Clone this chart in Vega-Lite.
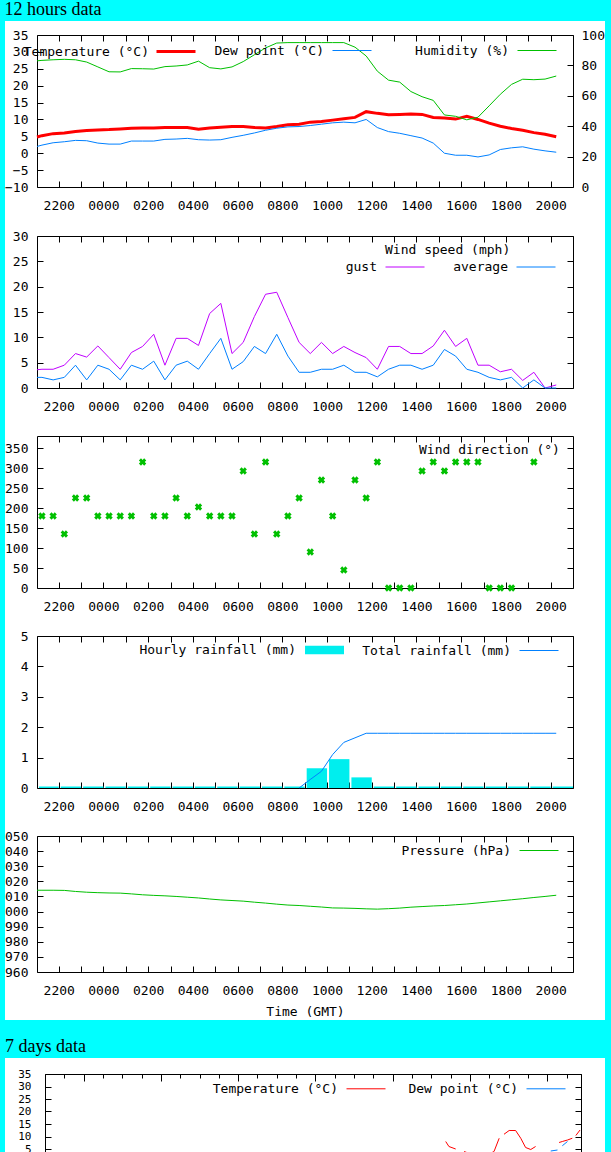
{
  "$schema": "https://vega.github.io/schema/vega-lite/v6.json",
  "background": "#00ffff",
  "padding": {"left": 4, "right": 7, "top": 1, "bottom": 0},
  "bounds": "flush",
  "spacing": 0,
  "resolve": {"scale": {"x": "independent", "y": "independent", "color": "independent", "stroke": "independent", "fill": "independent"}, "legend": {"color": "independent", "stroke": "independent", "fill": "independent"}},
  "config": {
    "view": {"fill": "white", "stroke": null},
    "font": "DejaVu Sans Mono",
    "axis": {"labelFont": "DejaVu Sans Mono", "labelFontSize": 13, "labelColor": "black", "domainColor": "black", "tickColor": "black", "grid": false, "labelFlush": false, "labelOverlap": false, "titleFont": "DejaVu Sans Mono", "titleFontSize": 13, "titleFontWeight": "normal", "titleColor": "black", "domainWidth": 1, "tickWidth": 1, "tickSize": -6},
    "legend": {"orient": "none", "direction": "horizontal", "padding": 0, "labelFont": "DejaVu Sans Mono", "labelFontSize": 13, "labelColor": "black", "titleFont": "DejaVu Sans Mono", "titleFontSize": 13, "titleFontWeight": "normal", "titleColor": "black", "symbolType": "stroke", "symbolSize": 1521, "symbolStrokeWidth": 1, "labelAlign": "right", "labelOffset": -48, "gridAlign": "all", "labelLimit": 400}
  },
  "datasets": {
    "h12": [
      {"t": "2024-01-15T20:45", "temp": 4.8, "dew": 2.0, "hum": 83.0, "gust": 3.6, "avg": 2.1, "dir": null, "pres": 1014.1, "total": null},
      {"t": "2024-01-15T21:15", "temp": 5.2, "dew": 2.4, "hum": 83.3, "gust": 3.7, "avg": 2.1, "dir": 180, "pres": 1014.1, "total": null},
      {"t": "2024-01-15T21:45", "temp": 5.8, "dew": 3.1, "hum": 83.7, "gust": 3.7, "avg": 1.6, "dir": 180, "pres": 1014.1, "total": null},
      {"t": "2024-01-15T22:15", "temp": 6.0, "dew": 3.4, "hum": 84.0, "gust": 4.5, "avg": 2.1, "dir": 135, "pres": 1014.0, "total": null},
      {"t": "2024-01-15T22:45", "temp": 6.4, "dew": 3.8, "hum": 83.7, "gust": 6.8, "avg": 4.5, "dir": 225, "pres": 1013.3, "total": null},
      {"t": "2024-01-15T23:15", "temp": 6.7, "dew": 3.7, "hum": 82.2, "gust": 6.1, "avg": 1.6, "dir": 225, "pres": 1012.8, "total": null},
      {"t": "2024-01-15T23:45", "temp": 6.9, "dew": 3.0, "hum": 79.0, "gust": 8.3, "avg": 4.5, "dir": 180, "pres": 1012.5, "total": null},
      {"t": "2024-01-16T00:15", "temp": 7.0, "dew": 2.7, "hum": 75.8, "gust": 6.0, "avg": 3.7, "dir": 180, "pres": 1012.3, "total": null},
      {"t": "2024-01-16T00:45", "temp": 7.2, "dew": 2.7, "hum": 75.7, "gust": 3.7, "avg": 1.6, "dir": 180, "pres": 1012.2, "total": null},
      {"t": "2024-01-16T01:15", "temp": 7.4, "dew": 3.6, "hum": 77.9, "gust": 7.0, "avg": 4.5, "dir": 180, "pres": 1011.7, "total": null},
      {"t": "2024-01-16T01:45", "temp": 7.5, "dew": 3.6, "hum": 77.8, "gust": 8.2, "avg": 3.7, "dir": 315, "pres": 1011.1, "total": null},
      {"t": "2024-01-16T02:15", "temp": 7.5, "dew": 3.6, "hum": 77.6, "gust": 10.6, "avg": 5.3, "dir": 180, "pres": 1010.7, "total": null},
      {"t": "2024-01-16T02:45", "temp": 7.6, "dew": 4.1, "hum": 79.2, "gust": 4.5, "avg": 1.6, "dir": 180, "pres": 1010.4, "total": null},
      {"t": "2024-01-16T03:15", "temp": 7.6, "dew": 4.2, "hum": 79.6, "gust": 9.8, "avg": 4.5, "dir": 225, "pres": 1010.0, "total": null},
      {"t": "2024-01-16T03:45", "temp": 7.6, "dew": 4.4, "hum": 80.3, "gust": 9.8, "avg": 5.3, "dir": 180, "pres": 1009.5, "total": null},
      {"t": "2024-01-16T04:15", "temp": 7.1, "dew": 4.0, "hum": 82.8, "gust": 8.4, "avg": 3.7, "dir": 202.5, "pres": 1009.0, "total": null},
      {"t": "2024-01-16T04:45", "temp": 7.5, "dew": 3.9, "hum": 78.5, "gust": 14.7, "avg": 6.8, "dir": 180, "pres": 1008.3, "total": null},
      {"t": "2024-01-16T05:15", "temp": 7.7, "dew": 4.0, "hum": 77.7, "gust": 16.7, "avg": 9.8, "dir": 180, "pres": 1007.7, "total": null},
      {"t": "2024-01-16T05:45", "temp": 7.9, "dew": 4.7, "hum": 79.0, "gust": 6.8, "avg": 3.7, "dir": 180, "pres": 1007.3, "total": null},
      {"t": "2024-01-16T06:15", "temp": 7.9, "dew": 5.3, "hum": 82.5, "gust": 9.0, "avg": 5.2, "dir": 292.5, "pres": 1006.9, "total": null},
      {"t": "2024-01-16T06:45", "temp": 7.6, "dew": 6.0, "hum": 87.0, "gust": 14.1, "avg": 8.2, "dir": 135, "pres": 1006.2, "total": null},
      {"t": "2024-01-16T07:15", "temp": 7.5, "dew": 6.8, "hum": 91.5, "gust": 18.5, "avg": 6.8, "dir": 315, "pres": 1005.6, "total": null},
      {"t": "2024-01-16T07:45", "temp": 7.9, "dew": 7.4, "hum": 94.7, "gust": 18.9, "avg": 10.6, "dir": 135, "pres": 1004.9, "total": null},
      {"t": "2024-01-16T08:15", "temp": 8.4, "dew": 7.8, "hum": 95.0, "gust": 13.9, "avg": 6.3, "dir": 180, "pres": 1004.3, "total": null},
      {"t": "2024-01-16T08:45", "temp": 8.6, "dew": 7.9, "hum": 95.0, "gust": 9.0, "avg": 3.1, "dir": 225, "pres": 1004.0, "total": 0},
      {"t": "2024-01-16T09:15", "temp": 9.2, "dew": 8.2, "hum": 95.0, "gust": 6.8, "avg": 3.1, "dir": 90, "pres": 1003.5, "total": 0.28},
      {"t": "2024-01-16T09:45", "temp": 9.4, "dew": 8.6, "hum": 95.0, "gust": 9.0, "avg": 3.7, "dir": 270, "pres": 1003.0, "total": 0.55},
      {"t": "2024-01-16T10:15", "temp": 9.8, "dew": 9.0, "hum": 95.0, "gust": 6.8, "avg": 3.7, "dir": 180, "pres": 1002.4, "total": 1.1},
      {"t": "2024-01-16T10:45", "temp": 10.2, "dew": 9.2, "hum": 95.0, "gust": 8.2, "avg": 4.5, "dir": 45, "pres": 1002.3, "total": 1.5},
      {"t": "2024-01-16T11:15", "temp": 10.6, "dew": 9.0, "hum": 92.0, "gust": 7.0, "avg": 3.1, "dir": 270, "pres": 1002.1, "total": 1.65},
      {"t": "2024-01-16T11:45", "temp": 12.3, "dew": 10.0, "hum": 86.2, "gust": 6.0, "avg": 3.1, "dir": 225, "pres": 1001.8, "total": 1.8},
      {"t": "2024-01-16T12:15", "temp": 11.8, "dew": 7.6, "hum": 76.2, "gust": 3.7, "avg": 2.2, "dir": 315, "pres": 1001.6, "total": 1.8},
      {"t": "2024-01-16T12:45", "temp": 11.4, "dew": 6.4, "hum": 70.3, "gust": 8.2, "avg": 3.7, "dir": 0, "pres": 1001.9, "total": 1.8},
      {"t": "2024-01-16T13:15", "temp": 11.5, "dew": 5.9, "hum": 69.0, "gust": 8.2, "avg": 4.5, "dir": 0, "pres": 1002.3, "total": 1.8},
      {"t": "2024-01-16T13:45", "temp": 11.6, "dew": 5.2, "hum": 62.8, "gust": 6.8, "avg": 4.5, "dir": 0, "pres": 1002.9, "total": 1.8},
      {"t": "2024-01-16T14:15", "temp": 11.5, "dew": 4.5, "hum": 59.4, "gust": 6.8, "avg": 3.7, "dir": 292.5, "pres": 1003.3, "total": 1.8},
      {"t": "2024-01-16T14:45", "temp": 10.6, "dew": 3.0, "hum": 57.0, "gust": 8.3, "avg": 4.5, "dir": 315, "pres": 1003.7, "total": 1.8},
      {"t": "2024-01-16T15:15", "temp": 10.4, "dew": 0.0, "hum": 47.4, "gust": 11.4, "avg": 7.6, "dir": 292.5, "pres": 1004.0, "total": 1.8},
      {"t": "2024-01-16T15:45", "temp": 10.1, "dew": -0.6, "hum": 46.5, "gust": 8.2, "avg": 6.3, "dir": 315, "pres": 1004.5, "total": 1.8},
      {"t": "2024-01-16T16:15", "temp": 10.9, "dew": -0.6, "hum": 44.2, "gust": 9.8, "avg": 3.7, "dir": 315, "pres": 1005.0, "total": 1.8},
      {"t": "2024-01-16T16:45", "temp": 10.0, "dew": -1.1, "hum": 45.9, "gust": 4.5, "avg": 3.1, "dir": 315, "pres": 1005.7, "total": 1.8},
      {"t": "2024-01-16T17:15", "temp": 8.9, "dew": -0.5, "hum": 53.4, "gust": 4.5, "avg": 2.1, "dir": 0, "pres": 1006.4, "total": 1.8},
      {"t": "2024-01-16T17:45", "temp": 8.0, "dew": 1.1, "hum": 61.0, "gust": 3.2, "avg": 1.6, "dir": 0, "pres": 1007.1, "total": 1.8},
      {"t": "2024-01-16T18:15", "temp": 7.3, "dew": 1.6, "hum": 67.5, "gust": 3.7, "avg": 2.1, "dir": 0, "pres": 1007.8, "total": 1.8},
      {"t": "2024-01-16T18:45", "temp": 6.8, "dew": 1.9, "hum": 70.9, "gust": 1.5, "avg": 0.0, "dir": null, "pres": 1008.5, "total": 1.8},
      {"t": "2024-01-16T19:15", "temp": 6.1, "dew": 1.2, "hum": 70.6, "gust": 3.1, "avg": 1.6, "dir": 315, "pres": 1009.3, "total": 1.8},
      {"t": "2024-01-16T19:45", "temp": 5.6, "dew": 0.7, "hum": 71.0, "gust": 0.0, "avg": 0.0, "dir": null, "pres": 1010.0, "total": 1.8},
      {"t": "2024-01-16T20:15", "temp": 4.9, "dew": 0.3, "hum": 73.0, "gust": 0.6, "avg": 0.0, "dir": null, "pres": 1010.8, "total": 1.8}
    ],
    "rain": [
      {"start": "2024-01-15T21:00", "end": "2024-01-15T22:00", "rain": 0},
      {"start": "2024-01-15T22:00", "end": "2024-01-15T23:00", "rain": 0},
      {"start": "2024-01-15T23:00", "end": "2024-01-16T00:00", "rain": 0},
      {"start": "2024-01-16T00:00", "end": "2024-01-16T01:00", "rain": 0},
      {"start": "2024-01-16T01:00", "end": "2024-01-16T02:00", "rain": 0},
      {"start": "2024-01-16T02:00", "end": "2024-01-16T03:00", "rain": 0},
      {"start": "2024-01-16T03:00", "end": "2024-01-16T04:00", "rain": 0},
      {"start": "2024-01-16T04:00", "end": "2024-01-16T05:00", "rain": 0},
      {"start": "2024-01-16T05:00", "end": "2024-01-16T06:00", "rain": 0},
      {"start": "2024-01-16T06:00", "end": "2024-01-16T07:00", "rain": 0},
      {"start": "2024-01-16T07:00", "end": "2024-01-16T08:00", "rain": 0},
      {"start": "2024-01-16T08:00", "end": "2024-01-16T09:00", "rain": 0},
      {"start": "2024-01-16T09:00", "end": "2024-01-16T10:00", "rain": 0.6},
      {"start": "2024-01-16T10:00", "end": "2024-01-16T11:00", "rain": 0.9},
      {"start": "2024-01-16T11:00", "end": "2024-01-16T12:00", "rain": 0.3},
      {"start": "2024-01-16T12:00", "end": "2024-01-16T13:00", "rain": 0},
      {"start": "2024-01-16T13:00", "end": "2024-01-16T14:00", "rain": 0},
      {"start": "2024-01-16T14:00", "end": "2024-01-16T15:00", "rain": 0},
      {"start": "2024-01-16T15:00", "end": "2024-01-16T16:00", "rain": 0},
      {"start": "2024-01-16T16:00", "end": "2024-01-16T17:00", "rain": 0},
      {"start": "2024-01-16T17:00", "end": "2024-01-16T18:00", "rain": 0},
      {"start": "2024-01-16T18:00", "end": "2024-01-16T19:00", "rain": 0},
      {"start": "2024-01-16T19:00", "end": "2024-01-16T20:00", "rain": 0},
      {"start": "2024-01-16T20:00", "end": "2024-01-16T21:00", "rain": 0}
    ],
    "d7": [
      {"t": "2024-01-14T16:26", "temp": 8.0, "dew": 3.0},
      {"t": "2024-01-14T17:26", "temp": 6.0, "dew": null},
      {"t": "2024-01-14T19:32", "temp": 5.0, "dew": null},
      {"t": "2024-01-14T21:02", "temp": null, "dew": 2.0},
      {"t": "2024-01-14T22:08", "temp": 4.0, "dew": null},
      {"t": "2024-01-15T00:14", "temp": 3.0, "dew": null},
      {"t": "2024-01-15T02:44", "temp": 2.0, "dew": null},
      {"t": "2024-01-15T03:14", "temp": null, "dew": 1.0},
      {"t": "2024-01-15T05:08", "temp": 2.5, "dew": null},
      {"t": "2024-01-15T07:26", "temp": 4.0, "dew": null},
      {"t": "2024-01-15T09:02", "temp": 9.3, "dew": null},
      {"t": "2024-01-15T09:26", "temp": null, "dew": 2.0},
      {"t": "2024-01-15T10:32", "temp": 10.9, "dew": null},
      {"t": "2024-01-15T12:08", "temp": 12.4, "dew": null},
      {"t": "2024-01-15T14:08", "temp": 12.4, "dew": null},
      {"t": "2024-01-15T15:44", "temp": 9.3, "dew": 3.0},
      {"t": "2024-01-15T17:14", "temp": 5.6, "dew": null},
      {"t": "2024-01-15T18:50", "temp": 4.8, "dew": null},
      {"t": "2024-01-15T20:20", "temp": 6.0, "dew": null},
      {"t": "2024-01-15T20:56", "temp": null, "dew": 3.8},
      {"t": "2024-01-15T22:26", "temp": 6.9, "dew": null},
      {"t": "2024-01-15T22:56", "temp": null, "dew": 4.2},
      {"t": "2024-01-16T00:02", "temp": 7.6, "dew": null},
      {"t": "2024-01-16T01:02", "temp": null, "dew": 4.2},
      {"t": "2024-01-16T03:08", "temp": null, "dew": 4.6},
      {"t": "2024-01-16T03:38", "temp": 7.6, "dew": null},
      {"t": "2024-01-16T04:38", "temp": 8.0, "dew": 6.3},
      {"t": "2024-01-16T06:14", "temp": 8.6, "dew": 8.0},
      {"t": "2024-01-16T07:44", "temp": 9.3, "dew": null},
      {"t": "2024-01-16T08:14", "temp": null, "dew": 9.3},
      {"t": "2024-01-16T08:50", "temp": 10.4, "dew": null},
      {"t": "2024-01-16T10:08", "temp": 12.6, "dew": 10.4}
    ]
  },
  "vconcat": [
    {
      "width": 600, "height": 199,
      "title": {"text": "12 hours data", "anchor": "start", "offset": 2, "font": "Liberation Serif", "fontSize": 18, "fontWeight": "normal", "color": "black"},
      "data": {"name": "h12"},
      "resolve": {"scale": {"y": "independent"}, "axis": {"x": "independent", "y": "independent"}},
      "layer": [
        {
          "mark": {"type": "line", "strokeWidth": 3},
          "encoding": {
            "x": {"field": "t", "type": "temporal",
              "scale": {"domain": [{"year": 2024, "month": 1, "date": 15, "hours": 21, "minutes": 1, "seconds": 42}, {"year": 2024, "month": 1, "date": 16, "hours": 20, "minutes": 59, "seconds": 59}], "range": [32, 568], "clamp": true, "nice": false},
              "axis": {"orient": "bottom", "offset": -33, "labelPadding": 18, "format": "%H%M", "labelExpr": "hours(datum.value) % 2 == 0 ? datum.label : ''", "title": null,
                "values": [{"year": 2024, "month": 1, "date": 15, "hours": 22}, {"year": 2024, "month": 1, "date": 15, "hours": 23}, {"year": 2024, "month": 1, "date": 16, "hours": 0}, {"year": 2024, "month": 1, "date": 16, "hours": 1}, {"year": 2024, "month": 1, "date": 16, "hours": 2}, {"year": 2024, "month": 1, "date": 16, "hours": 3}, {"year": 2024, "month": 1, "date": 16, "hours": 4}, {"year": 2024, "month": 1, "date": 16, "hours": 5}, {"year": 2024, "month": 1, "date": 16, "hours": 6}, {"year": 2024, "month": 1, "date": 16, "hours": 7}, {"year": 2024, "month": 1, "date": 16, "hours": 8}, {"year": 2024, "month": 1, "date": 16, "hours": 9}, {"year": 2024, "month": 1, "date": 16, "hours": 10}, {"year": 2024, "month": 1, "date": 16, "hours": 11}, {"year": 2024, "month": 1, "date": 16, "hours": 12}, {"year": 2024, "month": 1, "date": 16, "hours": 13}, {"year": 2024, "month": 1, "date": 16, "hours": 14}, {"year": 2024, "month": 1, "date": 16, "hours": 15}, {"year": 2024, "month": 1, "date": 16, "hours": 16}, {"year": 2024, "month": 1, "date": 16, "hours": 17}, {"year": 2024, "month": 1, "date": 16, "hours": 18}, {"year": 2024, "month": 1, "date": 16, "hours": 19}, {"year": 2024, "month": 1, "date": 16, "hours": 20}]}},
            "y": {"field": "temp", "type": "quantitative", "scale": {"domain": [-10, 35], "range": [166, 14], "nice": false, "zero": false},
              "axis": {"orient": "left", "offset": -32, "labelPadding": 15, "values": [-10, -5, 0, 5, 10, 15, 20, 25, 30, 35], "title": null}},
            "stroke": {"datum": "Temperature (°C)", "type": "nominal",
              "scale": {"domain": ["Temperature (°C)"], "range": ["#ff0000"]},
              "legend": {"title": null, "legendX": 150, "legendY": 9.5, "symbolStrokeWidth": 3}}
          }
        },
        {
          "mark": {"type": "line", "strokeWidth": 1},
          "encoding": {
            "x": {"field": "t", "type": "temporal", "axis": null},
            "y": {"field": "dew", "type": "quantitative", "scale": {"domain": [-10, 35], "range": [166, 14], "nice": false, "zero": false}, "axis": null},
            "color": {"datum": "Dew point (°C)", "type": "nominal",
              "scale": {"domain": ["Dew point (°C)", "Humidity (%)"], "range": ["#0080ff", "#00c000"]},
              "legend": {"title": null, "legendX": 327, "legendY": 9.5, "columnPadding": 41}}
          }
        },
        {
          "mark": {"type": "line", "strokeWidth": 1},
          "encoding": {
            "x": {"field": "t", "type": "temporal",
              "axis": {"orient": "top", "offset": -14, "labels": false, "title": null,
                "values": [{"year": 2024, "month": 1, "date": 15, "hours": 22}, {"year": 2024, "month": 1, "date": 15, "hours": 23}, {"year": 2024, "month": 1, "date": 16, "hours": 0}, {"year": 2024, "month": 1, "date": 16, "hours": 1}, {"year": 2024, "month": 1, "date": 16, "hours": 2}, {"year": 2024, "month": 1, "date": 16, "hours": 3}, {"year": 2024, "month": 1, "date": 16, "hours": 4}, {"year": 2024, "month": 1, "date": 16, "hours": 5}, {"year": 2024, "month": 1, "date": 16, "hours": 6}, {"year": 2024, "month": 1, "date": 16, "hours": 7}, {"year": 2024, "month": 1, "date": 16, "hours": 8}, {"year": 2024, "month": 1, "date": 16, "hours": 9}, {"year": 2024, "month": 1, "date": 16, "hours": 10}, {"year": 2024, "month": 1, "date": 16, "hours": 11}, {"year": 2024, "month": 1, "date": 16, "hours": 12}, {"year": 2024, "month": 1, "date": 16, "hours": 13}, {"year": 2024, "month": 1, "date": 16, "hours": 14}, {"year": 2024, "month": 1, "date": 16, "hours": 15}, {"year": 2024, "month": 1, "date": 16, "hours": 16}, {"year": 2024, "month": 1, "date": 16, "hours": 17}, {"year": 2024, "month": 1, "date": 16, "hours": 18}, {"year": 2024, "month": 1, "date": 16, "hours": 19}, {"year": 2024, "month": 1, "date": 16, "hours": 20}]}},
            "y": {"field": "hum", "type": "quantitative", "scale": {"domain": [0, 100], "range": [166, 14], "nice": false, "zero": false},
              "axis": {"orient": "right", "offset": -32, "labelPadding": 14, "values": [0, 20, 40, 60, 80, 100], "title": null}},
            "color": {"datum": "Humidity (%)", "type": "nominal"}
          }
        }
      ]
    },
    {
      "width": 600, "height": 200,
      "data": {"name": "h12"},
      "resolve": {"axis": {"x": "independent", "y": "independent"}},
      "layer": [
        {
          "mark": {"type": "line", "strokeWidth": 1},
          "encoding": {
            "x": {"field": "t", "type": "temporal",
              "scale": {"domain": [{"year": 2024, "month": 1, "date": 15, "hours": 21, "minutes": 1, "seconds": 42}, {"year": 2024, "month": 1, "date": 16, "hours": 20, "minutes": 59, "seconds": 59}], "range": [32, 568], "clamp": true, "nice": false},
              "axis": {"orient": "bottom", "offset": -32, "labelPadding": 18, "format": "%H%M", "labelExpr": "hours(datum.value) % 2 == 0 ? datum.label : ''", "title": null,
                "values": [{"year": 2024, "month": 1, "date": 15, "hours": 22}, {"year": 2024, "month": 1, "date": 15, "hours": 23}, {"year": 2024, "month": 1, "date": 16, "hours": 0}, {"year": 2024, "month": 1, "date": 16, "hours": 1}, {"year": 2024, "month": 1, "date": 16, "hours": 2}, {"year": 2024, "month": 1, "date": 16, "hours": 3}, {"year": 2024, "month": 1, "date": 16, "hours": 4}, {"year": 2024, "month": 1, "date": 16, "hours": 5}, {"year": 2024, "month": 1, "date": 16, "hours": 6}, {"year": 2024, "month": 1, "date": 16, "hours": 7}, {"year": 2024, "month": 1, "date": 16, "hours": 8}, {"year": 2024, "month": 1, "date": 16, "hours": 9}, {"year": 2024, "month": 1, "date": 16, "hours": 10}, {"year": 2024, "month": 1, "date": 16, "hours": 11}, {"year": 2024, "month": 1, "date": 16, "hours": 12}, {"year": 2024, "month": 1, "date": 16, "hours": 13}, {"year": 2024, "month": 1, "date": 16, "hours": 14}, {"year": 2024, "month": 1, "date": 16, "hours": 15}, {"year": 2024, "month": 1, "date": 16, "hours": 16}, {"year": 2024, "month": 1, "date": 16, "hours": 17}, {"year": 2024, "month": 1, "date": 16, "hours": 18}, {"year": 2024, "month": 1, "date": 16, "hours": 19}, {"year": 2024, "month": 1, "date": 16, "hours": 20}]}},
            "y": {"field": "gust", "type": "quantitative", "scale": {"domain": [0, 30], "range": [168, 16], "nice": false, "zero": false},
              "axis": {"orient": "left", "offset": -32, "labelPadding": 15, "values": [0, 5, 10, 15, 20, 25, 30], "title": null}},
            "color": {"datum": "gust", "type": "nominal",
              "scale": {"domain": ["gust", "average"], "range": ["#c000ff", "#0080ff"]},
              "legend": {"title": "Wind speed (mph)", "titlePadding": -10, "legendX": 380, "legendY": 24, "columnPadding": 26}}
          }
        },
        {
          "mark": {"type": "line", "strokeWidth": 1},
          "encoding": {
            "x": {"field": "t", "type": "temporal",
              "axis": {"orient": "top", "offset": -16, "labels": false, "title": null,
                "values": [{"year": 2024, "month": 1, "date": 15, "hours": 22}, {"year": 2024, "month": 1, "date": 15, "hours": 23}, {"year": 2024, "month": 1, "date": 16, "hours": 0}, {"year": 2024, "month": 1, "date": 16, "hours": 1}, {"year": 2024, "month": 1, "date": 16, "hours": 2}, {"year": 2024, "month": 1, "date": 16, "hours": 3}, {"year": 2024, "month": 1, "date": 16, "hours": 4}, {"year": 2024, "month": 1, "date": 16, "hours": 5}, {"year": 2024, "month": 1, "date": 16, "hours": 6}, {"year": 2024, "month": 1, "date": 16, "hours": 7}, {"year": 2024, "month": 1, "date": 16, "hours": 8}, {"year": 2024, "month": 1, "date": 16, "hours": 9}, {"year": 2024, "month": 1, "date": 16, "hours": 10}, {"year": 2024, "month": 1, "date": 16, "hours": 11}, {"year": 2024, "month": 1, "date": 16, "hours": 12}, {"year": 2024, "month": 1, "date": 16, "hours": 13}, {"year": 2024, "month": 1, "date": 16, "hours": 14}, {"year": 2024, "month": 1, "date": 16, "hours": 15}, {"year": 2024, "month": 1, "date": 16, "hours": 16}, {"year": 2024, "month": 1, "date": 16, "hours": 17}, {"year": 2024, "month": 1, "date": 16, "hours": 18}, {"year": 2024, "month": 1, "date": 16, "hours": 19}, {"year": 2024, "month": 1, "date": 16, "hours": 20}]}},
            "y": {"field": "avg", "type": "quantitative",
              "axis": {"orient": "right", "offset": -32, "labels": false, "values": [0, 5, 10, 15, 20, 25, 30], "title": null}},
            "color": {"datum": "average", "type": "nominal"}
          }
        }
      ]
    },
    {
      "width": 600, "height": 200,
      "data": {"name": "h12"},
      "resolve": {"axis": {"x": "independent", "y": "independent"}},
      "layer": [
        {
          "mark": {"type": "point", "shape": "cross", "angle": 45, "filled": true, "size": 56, "opacity": 1},
          "encoding": {
            "x": {"field": "t", "type": "temporal",
              "scale": {"domain": [{"year": 2024, "month": 1, "date": 15, "hours": 21, "minutes": 1, "seconds": 42}, {"year": 2024, "month": 1, "date": 16, "hours": 20, "minutes": 59, "seconds": 59}], "range": [32, 568], "clamp": true, "nice": false},
              "axis": {"orient": "bottom", "offset": -32, "labelPadding": 18, "format": "%H%M", "labelExpr": "hours(datum.value) % 2 == 0 ? datum.label : ''", "title": null,
                "values": [{"year": 2024, "month": 1, "date": 15, "hours": 22}, {"year": 2024, "month": 1, "date": 15, "hours": 23}, {"year": 2024, "month": 1, "date": 16, "hours": 0}, {"year": 2024, "month": 1, "date": 16, "hours": 1}, {"year": 2024, "month": 1, "date": 16, "hours": 2}, {"year": 2024, "month": 1, "date": 16, "hours": 3}, {"year": 2024, "month": 1, "date": 16, "hours": 4}, {"year": 2024, "month": 1, "date": 16, "hours": 5}, {"year": 2024, "month": 1, "date": 16, "hours": 6}, {"year": 2024, "month": 1, "date": 16, "hours": 7}, {"year": 2024, "month": 1, "date": 16, "hours": 8}, {"year": 2024, "month": 1, "date": 16, "hours": 9}, {"year": 2024, "month": 1, "date": 16, "hours": 10}, {"year": 2024, "month": 1, "date": 16, "hours": 11}, {"year": 2024, "month": 1, "date": 16, "hours": 12}, {"year": 2024, "month": 1, "date": 16, "hours": 13}, {"year": 2024, "month": 1, "date": 16, "hours": 14}, {"year": 2024, "month": 1, "date": 16, "hours": 15}, {"year": 2024, "month": 1, "date": 16, "hours": 16}, {"year": 2024, "month": 1, "date": 16, "hours": 17}, {"year": 2024, "month": 1, "date": 16, "hours": 18}, {"year": 2024, "month": 1, "date": 16, "hours": 19}, {"year": 2024, "month": 1, "date": 16, "hours": 20}]}},
            "y": {"field": "dir", "type": "quantitative", "scale": {"domain": [0, 380], "range": [168, 16], "nice": false, "zero": false},
              "axis": {"orient": "left", "offset": -32, "labelPadding": 15, "values": [0, 50, 100, 150, 200, 250, 300, 350], "title": null}},
            "color": {"datum": "dir", "type": "nominal",
              "scale": {"domain": ["dir"], "range": ["#00c000"]},
              "legend": {"title": "Wind direction (°)", "legendX": 414, "legendY": 23.5, "labelExpr": "''", "symbolOpacity": 0}}
          }
        },
        {
          "transform": [{"filter": "false"}],
          "mark": {"type": "point"},
          "encoding": {
            "x": {"field": "t", "type": "temporal",
              "axis": {"orient": "top", "offset": -16, "labels": false, "title": null,
                "values": [{"year": 2024, "month": 1, "date": 15, "hours": 22}, {"year": 2024, "month": 1, "date": 15, "hours": 23}, {"year": 2024, "month": 1, "date": 16, "hours": 0}, {"year": 2024, "month": 1, "date": 16, "hours": 1}, {"year": 2024, "month": 1, "date": 16, "hours": 2}, {"year": 2024, "month": 1, "date": 16, "hours": 3}, {"year": 2024, "month": 1, "date": 16, "hours": 4}, {"year": 2024, "month": 1, "date": 16, "hours": 5}, {"year": 2024, "month": 1, "date": 16, "hours": 6}, {"year": 2024, "month": 1, "date": 16, "hours": 7}, {"year": 2024, "month": 1, "date": 16, "hours": 8}, {"year": 2024, "month": 1, "date": 16, "hours": 9}, {"year": 2024, "month": 1, "date": 16, "hours": 10}, {"year": 2024, "month": 1, "date": 16, "hours": 11}, {"year": 2024, "month": 1, "date": 16, "hours": 12}, {"year": 2024, "month": 1, "date": 16, "hours": 13}, {"year": 2024, "month": 1, "date": 16, "hours": 14}, {"year": 2024, "month": 1, "date": 16, "hours": 15}, {"year": 2024, "month": 1, "date": 16, "hours": 16}, {"year": 2024, "month": 1, "date": 16, "hours": 17}, {"year": 2024, "month": 1, "date": 16, "hours": 18}, {"year": 2024, "month": 1, "date": 16, "hours": 19}, {"year": 2024, "month": 1, "date": 16, "hours": 20}]}},
            "y": {"field": "dir", "type": "quantitative",
              "axis": {"orient": "right", "offset": -32, "labels": false, "values": [0, 50, 100, 150, 200, 250, 300, 350], "title": null}}
          }
        }
      ]
    },
    {
      "width": 600, "height": 200,
      "resolve": {"axis": {"x": "independent", "y": "independent"}},
      "layer": [
        {
          "data": {"name": "rain"},
          "mark": {"type": "rect", "xOffset": 2, "yOffset": -1.5},
          "encoding": {
            "x": {"field": "start", "type": "temporal",
              "scale": {"domain": [{"year": 2024, "month": 1, "date": 15, "hours": 21, "minutes": 1, "seconds": 42}, {"year": 2024, "month": 1, "date": 16, "hours": 20, "minutes": 59, "seconds": 59}], "range": [32, 568], "clamp": true, "nice": false},
              "axis": {"orient": "bottom", "offset": -32, "labelPadding": 18, "format": "%H%M", "labelExpr": "hours(datum.value) % 2 == 0 ? datum.label : ''", "title": null,
                "values": [{"year": 2024, "month": 1, "date": 15, "hours": 22}, {"year": 2024, "month": 1, "date": 15, "hours": 23}, {"year": 2024, "month": 1, "date": 16, "hours": 0}, {"year": 2024, "month": 1, "date": 16, "hours": 1}, {"year": 2024, "month": 1, "date": 16, "hours": 2}, {"year": 2024, "month": 1, "date": 16, "hours": 3}, {"year": 2024, "month": 1, "date": 16, "hours": 4}, {"year": 2024, "month": 1, "date": 16, "hours": 5}, {"year": 2024, "month": 1, "date": 16, "hours": 6}, {"year": 2024, "month": 1, "date": 16, "hours": 7}, {"year": 2024, "month": 1, "date": 16, "hours": 8}, {"year": 2024, "month": 1, "date": 16, "hours": 9}, {"year": 2024, "month": 1, "date": 16, "hours": 10}, {"year": 2024, "month": 1, "date": 16, "hours": 11}, {"year": 2024, "month": 1, "date": 16, "hours": 12}, {"year": 2024, "month": 1, "date": 16, "hours": 13}, {"year": 2024, "month": 1, "date": 16, "hours": 14}, {"year": 2024, "month": 1, "date": 16, "hours": 15}, {"year": 2024, "month": 1, "date": 16, "hours": 16}, {"year": 2024, "month": 1, "date": 16, "hours": 17}, {"year": 2024, "month": 1, "date": 16, "hours": 18}, {"year": 2024, "month": 1, "date": 16, "hours": 19}, {"year": 2024, "month": 1, "date": 16, "hours": 20}]}},
            "x2": {"field": "end"},
            "y": {"field": "rain", "type": "quantitative", "scale": {"domain": [0, 5], "range": [168, 16], "nice": false, "zero": false},
              "axis": {"orient": "left", "offset": -32, "labelPadding": 15, "values": [0, 1, 2, 3, 4, 5], "title": null}},
            "y2": {"datum": 0},
            "fill": {"datum": "Hourly rainfall (mm)", "type": "nominal",
              "scale": {"domain": ["Hourly rainfall (mm)"], "range": ["#00eeee"]},
              "legend": {"title": null, "legendX": 300, "legendY": 10.5, "symbolType": "M-1,-0.22H1V0.22H-1Z", "symbolStrokeWidth": 0}}
          }
        },
        {
          "data": {"name": "h12"},
          "mark": {"type": "line", "strokeWidth": 1},
          "encoding": {
            "x": {"field": "t", "type": "temporal",
              "axis": {"orient": "top", "offset": -16, "labels": false, "title": null,
                "values": [{"year": 2024, "month": 1, "date": 15, "hours": 22}, {"year": 2024, "month": 1, "date": 15, "hours": 23}, {"year": 2024, "month": 1, "date": 16, "hours": 0}, {"year": 2024, "month": 1, "date": 16, "hours": 1}, {"year": 2024, "month": 1, "date": 16, "hours": 2}, {"year": 2024, "month": 1, "date": 16, "hours": 3}, {"year": 2024, "month": 1, "date": 16, "hours": 4}, {"year": 2024, "month": 1, "date": 16, "hours": 5}, {"year": 2024, "month": 1, "date": 16, "hours": 6}, {"year": 2024, "month": 1, "date": 16, "hours": 7}, {"year": 2024, "month": 1, "date": 16, "hours": 8}, {"year": 2024, "month": 1, "date": 16, "hours": 9}, {"year": 2024, "month": 1, "date": 16, "hours": 10}, {"year": 2024, "month": 1, "date": 16, "hours": 11}, {"year": 2024, "month": 1, "date": 16, "hours": 12}, {"year": 2024, "month": 1, "date": 16, "hours": 13}, {"year": 2024, "month": 1, "date": 16, "hours": 14}, {"year": 2024, "month": 1, "date": 16, "hours": 15}, {"year": 2024, "month": 1, "date": 16, "hours": 16}, {"year": 2024, "month": 1, "date": 16, "hours": 17}, {"year": 2024, "month": 1, "date": 16, "hours": 18}, {"year": 2024, "month": 1, "date": 16, "hours": 19}, {"year": 2024, "month": 1, "date": 16, "hours": 20}]}},
            "y": {"field": "total", "type": "quantitative",
              "axis": {"orient": "right", "offset": -32, "labels": false, "values": [0, 1, 2, 3, 4, 5], "title": null}},
            "stroke": {"datum": "Total rainfall (mm)", "type": "nominal",
              "scale": {"domain": ["Total rainfall (mm)"], "range": ["#0080ff"]},
              "legend": {"title": null, "legendX": 514, "legendY": 10.5}}
          }
        }
      ]
    },
    {
      "width": 600, "height": 200,
      "data": {"name": "h12"},
      "resolve": {"axis": {"x": "independent", "y": "independent"}},
      "layer": [
        {
          "mark": {"type": "line", "strokeWidth": 1},
          "encoding": {
            "x": {"field": "t", "type": "temporal",
              "scale": {"domain": [{"year": 2024, "month": 1, "date": 15, "hours": 21, "minutes": 1, "seconds": 42}, {"year": 2024, "month": 1, "date": 16, "hours": 20, "minutes": 59, "seconds": 59}], "range": [32, 568], "clamp": true, "nice": false},
              "axis": {"orient": "bottom", "offset": -48, "labelPadding": 18, "format": "%H%M", "labelExpr": "hours(datum.value) % 2 == 0 ? datum.label : ''", "title": "Time (GMT)", "titlePadding": 8,
                "values": [{"year": 2024, "month": 1, "date": 15, "hours": 22}, {"year": 2024, "month": 1, "date": 15, "hours": 23}, {"year": 2024, "month": 1, "date": 16, "hours": 0}, {"year": 2024, "month": 1, "date": 16, "hours": 1}, {"year": 2024, "month": 1, "date": 16, "hours": 2}, {"year": 2024, "month": 1, "date": 16, "hours": 3}, {"year": 2024, "month": 1, "date": 16, "hours": 4}, {"year": 2024, "month": 1, "date": 16, "hours": 5}, {"year": 2024, "month": 1, "date": 16, "hours": 6}, {"year": 2024, "month": 1, "date": 16, "hours": 7}, {"year": 2024, "month": 1, "date": 16, "hours": 8}, {"year": 2024, "month": 1, "date": 16, "hours": 9}, {"year": 2024, "month": 1, "date": 16, "hours": 10}, {"year": 2024, "month": 1, "date": 16, "hours": 11}, {"year": 2024, "month": 1, "date": 16, "hours": 12}, {"year": 2024, "month": 1, "date": 16, "hours": 13}, {"year": 2024, "month": 1, "date": 16, "hours": 14}, {"year": 2024, "month": 1, "date": 16, "hours": 15}, {"year": 2024, "month": 1, "date": 16, "hours": 16}, {"year": 2024, "month": 1, "date": 16, "hours": 17}, {"year": 2024, "month": 1, "date": 16, "hours": 18}, {"year": 2024, "month": 1, "date": 16, "hours": 19}, {"year": 2024, "month": 1, "date": 16, "hours": 20}]}},
            "y": {"field": "pres", "type": "quantitative", "scale": {"domain": [960, 1050], "range": [152, 16], "nice": false, "zero": false},
              "axis": {"orient": "left", "offset": -32, "labelPadding": 15, "values": [960, 970, 980, 990, 1000, 1010, 1020, 1030, 1040, 1050], "format": "d", "labelExpr": "slice(datum.label, -3)", "title": null}},
            "color": {"datum": "Pressure (hPa)", "type": "nominal",
              "scale": {"domain": ["Pressure (hPa)"], "range": ["#00c000"]},
              "legend": {"title": null, "legendX": 514, "legendY": 10.5}}
          }
        },
        {
          "transform": [{"filter": "false"}],
          "mark": {"type": "point"},
          "encoding": {
            "x": {"field": "t", "type": "temporal",
              "axis": {"orient": "top", "offset": -16, "labels": false, "title": null,
                "values": [{"year": 2024, "month": 1, "date": 15, "hours": 22}, {"year": 2024, "month": 1, "date": 15, "hours": 23}, {"year": 2024, "month": 1, "date": 16, "hours": 0}, {"year": 2024, "month": 1, "date": 16, "hours": 1}, {"year": 2024, "month": 1, "date": 16, "hours": 2}, {"year": 2024, "month": 1, "date": 16, "hours": 3}, {"year": 2024, "month": 1, "date": 16, "hours": 4}, {"year": 2024, "month": 1, "date": 16, "hours": 5}, {"year": 2024, "month": 1, "date": 16, "hours": 6}, {"year": 2024, "month": 1, "date": 16, "hours": 7}, {"year": 2024, "month": 1, "date": 16, "hours": 8}, {"year": 2024, "month": 1, "date": 16, "hours": 9}, {"year": 2024, "month": 1, "date": 16, "hours": 10}, {"year": 2024, "month": 1, "date": 16, "hours": 11}, {"year": 2024, "month": 1, "date": 16, "hours": 12}, {"year": 2024, "month": 1, "date": 16, "hours": 13}, {"year": 2024, "month": 1, "date": 16, "hours": 14}, {"year": 2024, "month": 1, "date": 16, "hours": 15}, {"year": 2024, "month": 1, "date": 16, "hours": 16}, {"year": 2024, "month": 1, "date": 16, "hours": 17}, {"year": 2024, "month": 1, "date": 16, "hours": 18}, {"year": 2024, "month": 1, "date": 16, "hours": 19}, {"year": 2024, "month": 1, "date": 16, "hours": 20}]}},
            "y": {"field": "pres", "type": "quantitative",
              "axis": {"orient": "right", "offset": -32, "labels": false, "values": [960, 970, 980, 990, 1000, 1010, 1020, 1030, 1040, 1050], "title": null}}
          }
        }
      ]
    },
    {
      "width": 600, "height": 38,
      "view": {"fill": "transparent", "stroke": null},
      "data": {"values": []},
      "mark": "point"
    },
    {
      "width": 600, "height": 94,
      "title": {"text": "7 days data", "anchor": "start", "offset": 2, "font": "Liberation Serif", "fontSize": 18, "fontWeight": "normal", "color": "black"},
      "data": {"name": "d7"},
      "resolve": {"axis": {"x": "independent", "y": "independent"}},
      "layer": [
        {
          "mark": {"type": "line", "strokeWidth": 1, "clip": true},
          "encoding": {
            "x": {"field": "t", "type": "temporal",
              "scale": {"domain": [{"year": 2024, "month": 1, "date": 9, "hours": 12, "minutes": 2}, {"year": 2024, "month": 1, "date": 16, "hours": 10, "minutes": 26}], "range": [40, 576], "nice": false},
              "axis": {"orient": "top", "offset": -16, "labels": false, "tickSize": -7, "title": null,
                "values": [{"year": 2024, "month": 1, "date": 10, "hours": 0}, {"year": 2024, "month": 1, "date": 11, "hours": 0}, {"year": 2024, "month": 1, "date": 12, "hours": 0}, {"year": 2024, "month": 1, "date": 13, "hours": 0}, {"year": 2024, "month": 1, "date": 14, "hours": 0}, {"year": 2024, "month": 1, "date": 15, "hours": 0}, {"year": 2024, "month": 1, "date": 16, "hours": 0}]}},
            "y": {"field": "temp", "type": "quantitative", "scale": {"domain": [3.8, 35], "range": [94, 16], "nice": false, "zero": false},
              "axis": {"orient": "left", "offset": -40, "labelPadding": 20, "labelFontSize": 11, "values": [5, 10, 15, 20, 25, 30, 35], "title": null}},
            "color": {"datum": "Temperature (°C)", "type": "nominal",
              "scale": {"domain": ["Temperature (°C)", "Dew point (°C)"], "range": ["#ff0000", "#0080ff"]},
              "legend": {"title": null, "legendX": 341, "legendY": 10.8, "columnPadding": 20}}
          }
        },
        {
          "mark": {"type": "line", "strokeWidth": 1, "clip": true},
          "encoding": {
            "x": {"field": "t", "type": "temporal",
              "axis": {"orient": "top", "offset": -16, "labels": false, "tickSize": -4, "title": null,
                "values": [{"year": 2024, "month": 1, "date": 9, "hours": 18}, {"year": 2024, "month": 1, "date": 10, "hours": 6}, {"year": 2024, "month": 1, "date": 10, "hours": 12}, {"year": 2024, "month": 1, "date": 10, "hours": 18}, {"year": 2024, "month": 1, "date": 11, "hours": 6}, {"year": 2024, "month": 1, "date": 11, "hours": 12}, {"year": 2024, "month": 1, "date": 11, "hours": 18}, {"year": 2024, "month": 1, "date": 12, "hours": 6}, {"year": 2024, "month": 1, "date": 12, "hours": 12}, {"year": 2024, "month": 1, "date": 12, "hours": 18}, {"year": 2024, "month": 1, "date": 13, "hours": 6}, {"year": 2024, "month": 1, "date": 13, "hours": 12}, {"year": 2024, "month": 1, "date": 13, "hours": 18}, {"year": 2024, "month": 1, "date": 14, "hours": 6}, {"year": 2024, "month": 1, "date": 14, "hours": 12}, {"year": 2024, "month": 1, "date": 14, "hours": 18}, {"year": 2024, "month": 1, "date": 15, "hours": 6}, {"year": 2024, "month": 1, "date": 15, "hours": 12}, {"year": 2024, "month": 1, "date": 15, "hours": 18}, {"year": 2024, "month": 1, "date": 16, "hours": 6}]}},
            "y": {"field": "dew", "type": "quantitative",
              "axis": {"orient": "right", "offset": -24, "labels": false, "values": [5, 10, 15, 20, 25, 30, 35], "title": null}},
            "color": {"datum": "Dew point (°C)", "type": "nominal"}
          }
        }
      ]
    }
  ]
}
